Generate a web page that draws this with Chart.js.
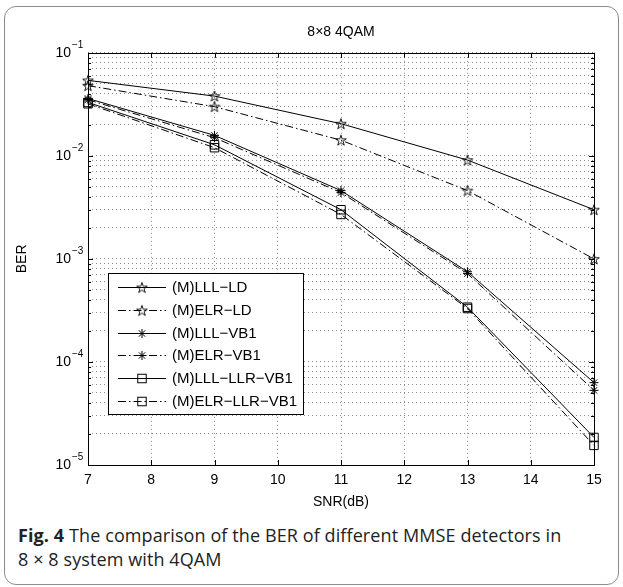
<!DOCTYPE html>
<html>
<head>
<meta charset="utf-8">
<script src="https://cdn.jsdelivr.net/npm/chart.js@4/dist/chart.umd.min.js"></script>
<style>
  html, body { margin: 0; padding: 0; background: #fff; }
  #fig { position: relative; width: 623px; height: 587px; overflow: hidden; }
  #frame { position: absolute; left: 4px; top: 6px; width: 615px; height: 579px;
           border: 1.5px solid #8c8c8c; border-radius: 12px; box-sizing: border-box; }
  #plot { position: absolute; left: 0; top: 0; width: 623px; height: 515px; }
  #caption { position: absolute; left: 18px; top: 523px; font-family: "Open Sans", sans-serif;
             font-size: 18px; letter-spacing: 0.1px; line-height: 24px; color: #222; white-space: nowrap; }
  #caption b { font-weight: bold; }
</style>
</head>
<body>
<div id="fig">
  <div id="frame"></div>
  <div id="plot"><canvas id="chart" width="623" height="515"></canvas></div>
  <div id="caption"><b>Fig. 4</b> The comparison of the BER of different MMSE detectors in<br>8 × 8 system with 4QAM</div>
</div>
<script>
// SNR points (dB)
const snrDb = [7, 9, 11, 13, 15];

// Bit error rates per detector
const lllLd     = [0.054, 0.038, 0.0205, 0.0091, 0.0030];
const elrLd     = [0.048, 0.030, 0.0142, 0.0046, 0.0010];
const lllVb1    = [0.036, 0.0158, 0.0046, 0.00075, 6.3e-5];
const elrVb1    = [0.035, 0.0150, 0.0044, 0.00072, 5.3e-5];
const lllLlrVb1 = [0.033, 0.0128, 0.0030, 0.00034, 1.85e-5];
const elrLlrVb1 = [0.032, 0.0120, 0.0027, 0.00033, 1.55e-5];

const seriesNames = ['(M)LLL\u2212LD', '(M)ELR\u2212LD', '(M)LLL\u2212VB1', '(M)ELR\u2212VB1',
                     '(M)LLL\u2212LLR\u2212VB1', '(M)ELR\u2212LLR\u2212VB1'];

// Log-axis decades: base label and exponent
const decades = [1e-5, 1e-4, 1e-3, 1e-2, 1e-1];
const decadeBase = '10';
const decadeExponents = ['\u22125', '\u22124', '\u22123', '\u22122', '\u22121'];
const minorSteps = [2, 3, 4, 5, 6, 7, 8, 9];

const FONT = '"Liberation Sans", Arial, Helvetica, sans-serif';
const DASH_DOT = [8, 3, 1.5, 3];

// Unfilled five-pointed star marker
function makePentagram(size, rOuter) {
  const c = document.createElement('canvas');
  c.width = size; c.height = size;
  const g = c.getContext('2d');
  const cx = size / 2, cy = size / 2 + 0.5, rInner = rOuter * 0.382;
  g.beginPath();
  for (let i = 0; i < 10; i++) {
    const r = i % 2 === 0 ? rOuter : rInner;
    const a = -Math.PI / 2 + i * Math.PI / 5;
    const px = cx + r * Math.cos(a), py = cy + r * Math.sin(a);
    if (i === 0) g.moveTo(px, py); else g.lineTo(px, py);
  }
  g.closePath();
  g.strokeStyle = '#000';
  g.lineWidth = 0.9;
  g.stroke();
  return c;
}
const pentagram = makePentagram(14, 5.6);

function decadeIndex(v) {
  return decades.findIndex(d => Math.abs(d - v) / d < 1e-6);
}

function series(label, values, dashed, marker, radius) {
  return {
    label,
    data: snrDb.map((x, i) => ({ x, y: values[i] })),
    borderColor: '#000',
    borderWidth: 1,
    borderDash: dashed ? DASH_DOT : [],
    pointStyle: marker,
    pointRadius: radius,
    pointBorderColor: '#000',
    pointBackgroundColor: 'rgba(0,0,0,0)',
    pointBorderWidth: 1,
    tension: 0,
    clip: false
  };
}

const datasets = [
  series(seriesNames[0], lllLd, false, pentagram, 6),
  series(seriesNames[1], elrLd, true, pentagram, 6),
  series(seriesNames[2], lllVb1, false, 'star', 4.5),
  series(seriesNames[3], elrVb1, true, 'star', 4.5),
  series(seriesNames[4], lllLlrVb1, false, 'rect', 6),
  series(seriesNames[5], elrLlrVb1, true, 'rect', 6)
];

function drawMarker(ctx, style, r, x, y) {
  ctx.save();
  ctx.setLineDash([]);
  ctx.strokeStyle = '#000';
  ctx.lineWidth = 1;
  if (style instanceof HTMLCanvasElement) {
    ctx.drawImage(style, x - style.width / 2, y - style.height / 2);
  } else if (style === 'star') {
    ctx.beginPath();
    ctx.moveTo(x, y - r); ctx.lineTo(x, y + r);
    ctx.moveTo(x - r, y); ctx.lineTo(x + r, y);
    const d = r * Math.SQRT1_2;
    ctx.moveTo(x - d, y - d); ctx.lineTo(x + d, y + d);
    ctx.moveTo(x - d, y + d); ctx.lineTo(x + d, y - d);
    ctx.stroke();
  } else if (style === 'rect') {
    const s = Math.SQRT1_2 * r;
    ctx.strokeRect(x - s, y - s, 2 * s, 2 * s);
  }
  ctx.restore();
}

// Axes box, inward tick marks, decade exponents and the boxed legend
const boxAndLegend = {
  id: 'boxAndLegend',
  afterDatasetsDraw(chart) {
    const { ctx, chartArea: a, scales: { x: xs, y: ys } } = chart;
    ctx.save();
    ctx.strokeStyle = '#000';
    ctx.lineWidth = 1;
    ctx.setLineDash([]);
    ctx.beginPath();
    xs.ticks.forEach(t => {
      const px = Math.round(xs.getPixelForValue(t.value)) + 0.5;
      ctx.moveTo(px, a.bottom); ctx.lineTo(px, a.bottom - 5);
      ctx.moveTo(px, a.top); ctx.lineTo(px, a.top + 5);
    });
    ys.ticks.forEach(t => {
      const py = Math.round(ys.getPixelForValue(t.value)) + 0.5;
      const len = decadeIndex(t.value) >= 0 ? 5 : 3;
      ctx.moveTo(a.left, py); ctx.lineTo(a.left + len, py);
      ctx.moveTo(a.right, py); ctx.lineTo(a.right - len, py);
    });
    ctx.stroke();
    ctx.strokeRect(Math.round(a.left) + 0.5, Math.round(a.top) + 0.5,
                   Math.round(a.right - a.left), Math.round(a.bottom - a.top));

    // exponents of the decade labels
    ctx.fillStyle = '#000';
    ctx.font = '10px ' + FONT;
    ctx.textAlign = 'left';
    ctx.textBaseline = 'middle';
    decades.forEach((d, i) => {
      const py = ys.getPixelForValue(d);
      ctx.fillText(decadeExponents[i], a.left - 16, py - 8);
    });

    // legend
    const L = { x: 108.5, y: 273.5, w: 195, h: 141, row0: 287, gap: 22.8, l0: 118, l1: 166, tx: 172 };
    ctx.fillStyle = '#fff';
    ctx.fillRect(L.x, L.y, L.w, L.h);
    ctx.strokeRect(L.x, L.y, L.w, L.h);
    ctx.font = '15px ' + FONT;
    ctx.textBaseline = 'middle';
    chart.data.datasets.forEach((ds, i) => {
      const y = Math.round(L.row0 + i * L.gap) + 0.5;
      ctx.setLineDash(ds.borderDash);
      ctx.beginPath();
      ctx.moveTo(L.l0, y);
      ctx.lineTo(L.l1, y);
      ctx.stroke();
      ctx.setLineDash([]);
      drawMarker(ctx, ds.pointStyle, ds.pointRadius, (L.l0 + L.l1) / 2, y);
      ctx.fillStyle = '#000';
      ctx.fillText(ds.label, L.tx, y + 0.5);
    });
    ctx.restore();
  }
};

const tickFont = { family: FONT, size: 14 };
const gridStyle = { color: '#8a8a8a', lineWidth: 1, drawTicks: false };

new Chart(document.getElementById('chart'), {
  type: 'line',
  data: { datasets },
  plugins: [boxAndLegend],
  options: {
    responsive: false,
    animation: false,
    events: [],
    layout: { padding: { left: 0, right: 29, top: 0, bottom: 0 } },
    plugins: {
      legend: { display: false },
      tooltip: { enabled: false },
      title: {
        display: true,
        fullSize: false,
        text: '8\u00D78 4QAM',
        color: '#000',
        font: { family: FONT, size: 14, weight: 'normal' },
        padding: { top: 24, bottom: 12 }
      }
    },
    scales: {
      x: {
        type: 'linear',
        min: 7, max: 15,
        ticks: { stepSize: 1, color: '#000', font: tickFont, padding: 7 },
        grid: gridStyle,
        border: { display: false, dash: [1, 3] },
        title: { display: true, text: 'SNR(dB)', color: '#000', font: tickFont, padding: { top: 0, bottom: 4 } },
        afterFit(s) { s.height = 50; }
      },
      y: {
        type: 'logarithmic',
        min: 1e-5, max: 1e-1,
        afterBuildTicks(s) {
          const vals = [];
          decades.forEach((d, i) => {
            vals.push(d);
            if (i < decades.length - 1) minorSteps.forEach(m => vals.push(m * d));
          });
          s.ticks = vals.map(v => ({ value: v }));
        },
        ticks: {
          autoSkip: false,
          color: '#000',
          font: tickFont,
          padding: 17,
          callback(v) {
            return decadeIndex(v) >= 0 ? decadeBase : '';
          }
        },
        grid: gridStyle,
        border: { display: false, dash: [1, 3] },
        title: { display: true, text: 'BER', color: '#000', font: tickFont, padding: { top: 14, bottom: 0 } },
        afterFit(s) { s.width = 88; }
      }
    }
  }
});
</script>
</body>
</html>
